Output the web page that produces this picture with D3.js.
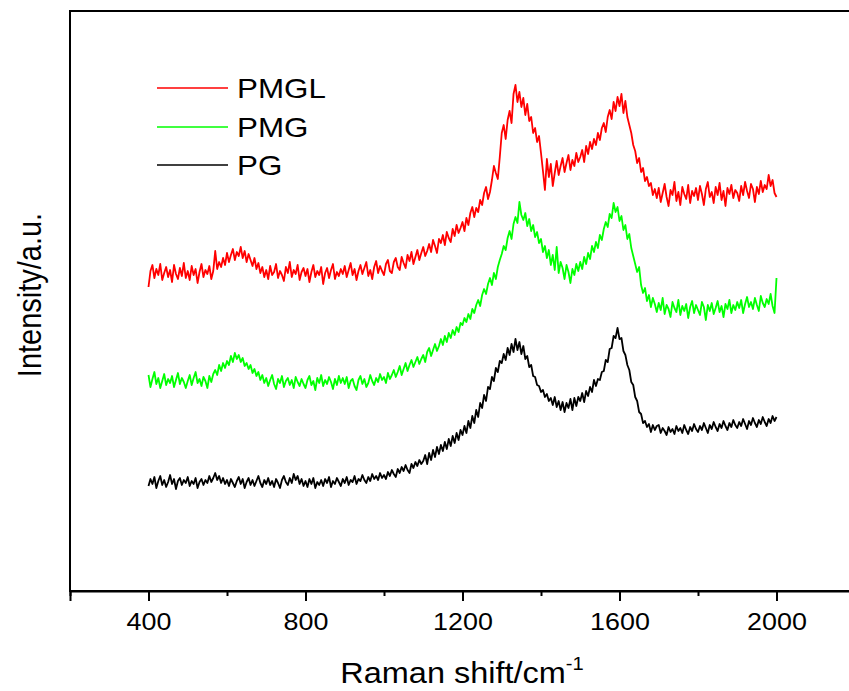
<!DOCTYPE html>
<html>
<head>
<meta charset="utf-8">
<script src="https://cdn.jsdelivr.net/npm/d3@7"></script>
<style>
  body { margin: 0; background: #fff; }
  text { font-family: "Liberation Sans", Arial, sans-serif; fill: #000; }
</style>
</head>
<body>
<div id="chart"></div>
<script>
// Raman shift grid (cm-1), 400..2000 every 5
var shift = [
  400,405,410,415,420,425,430,435,440,445,450,455,460,465,470,475,480,485,490,495,
  500,505,510,515,520,525,530,535,540,545,550,555,560,565,570,575,580,585,590,595,
  600,605,610,615,620,625,630,635,640,645,650,655,660,665,670,675,680,685,690,695,
  700,705,710,715,720,725,730,735,740,745,750,755,760,765,770,775,780,785,790,795,
  800,805,810,815,820,825,830,835,840,845,850,855,860,865,870,875,880,885,890,895,
  900,905,910,915,920,925,930,935,940,945,950,955,960,965,970,975,980,985,990,995,
  1000,1005,1010,1015,1020,1025,1030,1035,1040,1045,1050,1055,1060,1065,1070,1075,1080,1085,1090,1095,
  1100,1105,1110,1115,1120,1125,1130,1135,1140,1145,1150,1155,1160,1165,1170,1175,1180,1185,1190,1195,
  1200,1205,1210,1215,1220,1225,1230,1235,1240,1245,1250,1255,1260,1265,1270,1275,1280,1285,1290,1295,
  1300,1305,1310,1315,1320,1325,1330,1335,1340,1345,1350,1355,1360,1365,1370,1375,1380,1385,1390,1395,
  1400,1405,1410,1415,1420,1425,1430,1435,1440,1445,1450,1455,1460,1465,1470,1475,1480,1485,1490,1495,
  1500,1505,1510,1515,1520,1525,1530,1535,1540,1545,1550,1555,1560,1565,1570,1575,1580,1585,1590,1595,
  1600,1605,1610,1615,1620,1625,1630,1635,1640,1645,1650,1655,1660,1665,1670,1675,1680,1685,1690,1695,
  1700,1705,1710,1715,1720,1725,1730,1735,1740,1745,1750,1755,1760,1765,1770,1775,1780,1785,1790,1795,
  1800,1805,1810,1815,1820,1825,1830,1835,1840,1845,1850,1855,1860,1865,1870,1875,1880,1885,1890,1895,
  1900,1905,1910,1915,1920,1925,1930,1935,1940,1945,1950,1955,1960,1965,1970,1975,1980,1985,1990,1995,
  2000
];

// intensities (a.u., offset stacked as in the figure)
var pmgl = [
  304,320,326,313,322,316,327,311,318,324,314,321,309,326,317,312,323,315,328,313,
  320,311,325,316,322,308,319,327,314,321,317,325,312,320,340,322,329,324,333,326,
  338,329,336,342,331,339,335,344,333,340,329,337,331,325,333,322,328,318,324,314,
  321,312,325,316,319,327,313,320,316,310,324,318,329,314,321,317,326,311,319,323,
  315,322,309,319,326,314,320,316,324,307,318,323,313,321,327,312,319,315,322,317,
  325,314,321,328,316,322,311,320,326,317,323,329,315,321,312,324,330,318,325,320,
  316,327,331,320,318,329,333,324,321,334,328,323,336,330,339,327,334,341,331,338,
  344,335,340,347,339,351,345,338,352,348,356,346,359,353,349,362,355,366,358,363,
  369,360,373,366,378,384,374,383,379,391,386,398,404,392,399,411,425,418,412,434,
  458,466,452,471,480,468,497,506,489,499,484,493,476,487,470,474,458,463,449,455,
  438,420,401,432,414,427,405,418,430,416,425,433,419,428,436,421,431,425,438,429,
  434,441,429,445,437,449,442,452,446,458,451,463,468,459,474,481,472,489,480,494,
  485,497,478,490,474,466,458,446,440,428,433,419,423,410,414,405,408,396,402,393,
  403,389,398,407,394,385,401,396,409,390,399,386,404,397,392,406,388,400,395,403,
  391,405,397,386,402,409,394,399,388,404,396,408,391,400,385,403,397,406,393,401,
  398,390,405,396,409,400,393,407,402,389,404,397,410,399,406,402,416,405,411,398,
  394
];

var pmg = [
  216,204,212,219,207,213,203,210,217,206,212,208,215,204,211,218,207,213,209,203,
  210,216,206,213,219,208,212,205,214,210,203,215,209,217,221,216,226,220,228,223,
  230,226,235,229,238,232,236,229,233,225,228,222,226,218,222,215,219,211,216,208,
  213,205,211,216,207,202,212,208,215,204,210,213,206,211,203,214,209,205,212,207,
  203,211,215,206,210,201,213,208,216,205,211,207,214,209,202,212,206,215,208,213,
  207,214,203,210,212,205,201,211,215,207,212,204,208,216,210,206,213,209,217,211,
  214,208,218,212,216,221,214,219,225,216,222,228,220,226,231,224,229,234,227,232,
  236,229,239,243,235,241,247,240,245,252,246,255,249,258,253,261,256,264,259,268,
  266,273,269,277,272,282,278,286,291,285,296,302,297,307,313,306,318,312,324,331,
  337,345,341,353,360,352,367,374,368,389,376,371,378,365,372,360,366,354,359,348,
  352,339,345,333,341,326,336,321,344,318,329,323,312,326,319,308,322,316,327,320,
  329,322,334,327,338,332,345,339,349,343,356,351,362,369,364,377,373,388,379,384,
  370,375,361,366,352,357,343,335,327,319,324,306,298,303,290,296,284,293,287,279,
  288,281,293,277,286,282,274,289,283,279,291,276,285,280,287,273,284,290,278,286,
  281,276,289,284,271,286,280,288,277,283,290,279,285,274,287,282,291,278,286,281,
  289,283,291,278,287,294,284,289,282,293,286,280,295,288,284,292,287,297,285,278,
  313
];

var pg = [
  105,112,107,114,103,110,115,106,111,104,109,116,107,112,102,110,113,106,111,108,
  114,105,110,107,113,103,109,112,106,111,108,115,109,113,118,111,115,108,113,107,
  111,105,112,108,104,110,114,107,112,103,109,113,106,111,105,110,115,108,104,111,
  107,113,106,110,104,112,108,103,111,115,109,106,113,108,117,111,115,107,112,105,
  110,104,112,107,113,103,109,106,111,105,112,108,114,104,110,107,113,109,105,112,
  108,114,106,111,109,115,107,112,110,116,111,108,114,110,117,112,115,111,118,113,
  116,112,119,115,121,117,114,122,118,124,120,126,121,118,127,123,129,125,131,127,
  130,136,127,138,131,141,134,144,137,146,140,149,142,152,145,155,148,158,151,161,
  156,165,158,170,163,175,168,181,174,188,183,196,190,204,202,214,210,223,219,230,
  228,237,231,243,236,247,239,252,241,249,237,245,232,235,224,226,215,214,206,205,
  199,201,194,197,190,193,186,194,184,190,181,189,179,188,183,192,181,193,185,194,
  190,198,189,200,195,204,199,211,205,212,211,219,220,231,229,242,243,255,253,263,
  252,253,240,236,226,221,209,206,194,190,179,177,168,170,164,167,159,166,161,165,
  166,158,163,160,156,164,159,162,157,165,160,163,158,166,161,157,164,160,167,162,
  159,165,161,168,163,158,166,162,169,164,160,167,163,170,165,161,168,164,171,166,
  163,169,165,172,167,162,170,166,173,168,164,171,167,174,169,165,172,168,175,170,
  174
];

var seriesNames = ["PMGL", "PMG", "PG"];
var seriesColors = ["#ff0000", "#00ff00", "#000000"];
var majorTicks = [400, 800, 1200, 1600, 2000];
var minorTicks = [200, 600, 1000, 1400, 1800, 2200];

var width = 849;
var height = 691;
var plotLeft = 70, plotTop = 11, plotBottom = 591, plotRight = 855;
var stretch = 1.12;   // glyphs in the figure are a bit wide

var svg = d3.select("#chart").append("svg")
  .attr("width", width)
  .attr("height", height)
  .style("background", "#fff");

var xScale = d3.scaleLinear().domain([200, 2200]).range([plotLeft, plotRight]);
var yScale = d3.scaleLinear().domain([0, 580]).range([plotBottom, plotTop]);

/* frame */
svg.append("rect")
  .attr("x", plotLeft).attr("y", plotTop)
  .attr("width", plotRight - plotLeft).attr("height", plotBottom - plotTop)
  .attr("fill", "none")
  .attr("stroke", "#000")
  .attr("stroke-width", 2);

/* spectra */
var line = d3.line()
  .x(function(d, i) { return xScale(shift[i]); })
  .y(function(d) { return yScale(d); });

var data = [pmgl, pmg, pg];
svg.append("g").selectAll("path")
  .data(data).enter()
  .append("path")
  .attr("d", function(d) { return line(d); })
  .attr("fill", "none")
  .attr("stroke", function(d, i) { return seriesColors[i]; })
  .attr("stroke-width", 1.8)
  .attr("stroke-linejoin", "round");

/* x axis */
var minorAxis = d3.axisBottom(xScale).tickValues(minorTicks).tickSize(5).tickFormat("");
var majorAxis = d3.axisBottom(xScale).tickValues(majorTicks).tickSize(10).tickPadding(12)
  .tickFormat(d3.format("d"));

svg.append("g")
  .attr("transform", "translate(0," + plotBottom + ")")
  .call(minorAxis)
  .call(function(g) { g.select(".domain").remove(); })
  .selectAll("line").attr("stroke-width", 2);

var xg = svg.append("g")
  .attr("transform", "translate(0," + plotBottom + ")")
  .call(majorAxis);
xg.select(".domain").attr("stroke-width", 2);
xg.selectAll(".tick line").attr("stroke-width", 2);
xg.selectAll(".tick text")
  .attr("font-size", 24)
  .attr("font-family", "Liberation Sans, Arial, sans-serif")
  .attr("transform", "scale(" + stretch + ",1)");

/* axis titles */
var xt = svg.append("text")
  .attr("transform", "translate(462,683) scale(" + stretch + ",1)")
  .attr("text-anchor", "middle")
  .attr("font-size", 29);
xt.append("tspan").text("Raman shift/cm");
xt.append("tspan").attr("dy", -13).attr("font-size", 18).text("-1");

svg.append("text")
  .attr("transform", "translate(41,295) scale(" + stretch + ",1) rotate(-90)")
  .attr("text-anchor", "middle")
  .attr("font-size", 29)
  .text("Intensity/a.u.");

/* legend */
var legendY = [88, 127, 165];
var lg = svg.append("g").selectAll("g")
  .data(seriesNames).enter()
  .append("g")
  .attr("transform", function(d, i) { return "translate(0," + legendY[i] + ")"; });
lg.append("line")
  .attr("x1", 157).attr("x2", 228)
  .attr("stroke", function(d, i) { return seriesColors[i]; })
  .attr("stroke-width", 1.6);
lg.append("text")
  .attr("transform", "translate(237,10) scale(" + stretch + ",1)")
  .attr("font-size", 28)
  .text(function(d) { return d; });
</script>
</body>
</html>
